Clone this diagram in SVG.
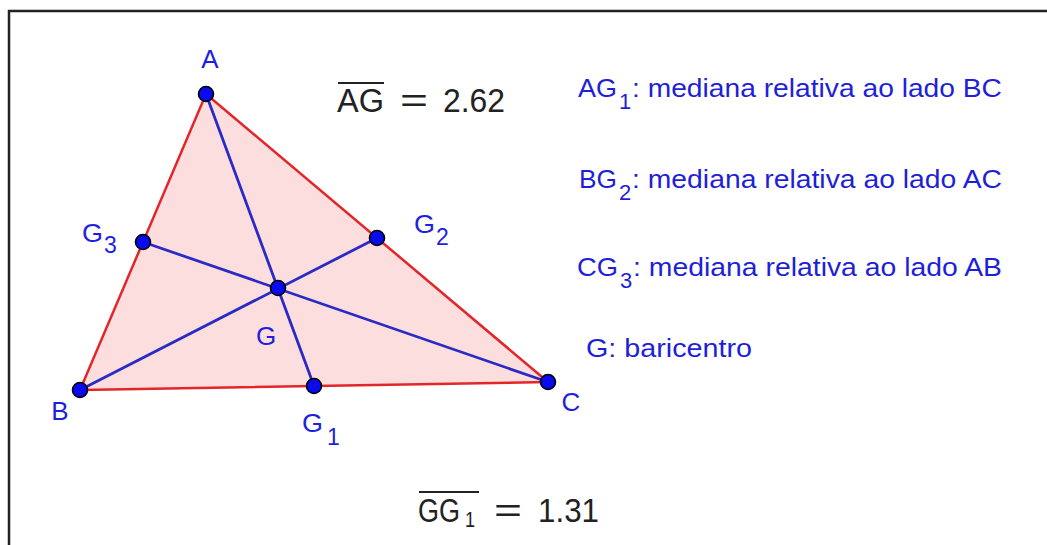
<svg xmlns="http://www.w3.org/2000/svg" width="1047" height="545" viewBox="0 0 1047 545">
<style>
.lbl{font-family:"Liberation Sans",Arial,sans-serif;font-size:26px;fill:#1f1fe0}
.txt{font-family:"Liberation Sans",Arial,sans-serif;font-size:26px;fill:#1f1fd8}
text.lbl.sub{font-size:23px}
text.txt.sub{font-size:22px}
.math{font-family:"Liberation Sans",Arial,sans-serif;font-size:33px;fill:#222}
.side{stroke:#e3262a;stroke-width:2.5;fill:none;stroke-linecap:round}
.med{stroke:#2a2ac4;stroke-width:2.8;fill:none;stroke-linecap:round}
.pt{fill:#0a0aee;stroke:#000;stroke-width:1.6}
.ovl{stroke:#222;stroke-width:2}
</style>
<rect width="1047" height="545" fill="#fff"/>
<path d="M9 545 V11 H1047" fill="none" stroke="#222" stroke-width="2.5"/>
<g id="triangle-fill">
<polygon points="206,94 80,390 548,382" fill="#fcdede"/>
</g>
<g id="connectors">
<line class="side" x1="206" y1="94" x2="80" y2="390"/>
<line class="side" x1="80" y1="390" x2="548" y2="382"/>
<line class="side" x1="548" y1="382" x2="206" y2="94"/>
<line class="med" x1="206" y1="94" x2="314" y2="386"/>
<line class="med" x1="80" y1="390" x2="377" y2="238"/>
<line class="med" x1="548" y1="382" x2="143" y2="242"/>
</g>
<g id="A"><circle class="pt" cx="206" cy="94" r="7.5"/><text class="lbl" x="210" y="68" text-anchor="middle">A</text></g>
<g id="B"><circle class="pt" cx="80" cy="390" r="7.5"/><text class="lbl" x="60" y="420" text-anchor="middle">B</text></g>
<g id="C"><circle class="pt" cx="548" cy="382" r="7.5"/><text class="lbl" x="571" y="411" text-anchor="middle">C</text></g>
<g id="G"><circle class="pt" cx="278" cy="288" r="7.5"/><text class="lbl" x="266" y="345" text-anchor="middle">G</text></g>
<g id="G1"><circle class="pt" cx="314" cy="386" r="7.5"/><text class="lbl" x="302" y="432" textLength="21" lengthAdjust="spacingAndGlyphs">G</text><text class="lbl sub" x="327" y="445">1</text></g>
<g id="G2"><circle class="pt" cx="377" cy="238" r="7.5"/><text class="lbl" x="414" y="233" textLength="21" lengthAdjust="spacingAndGlyphs">G</text><text class="lbl sub" x="436" y="245">2</text></g>
<g id="G3"><circle class="pt" cx="143" cy="242" r="7.5"/><text class="lbl" x="82" y="242" textLength="21" lengthAdjust="spacingAndGlyphs">G</text><text class="lbl sub" x="104" y="253">3</text></g>
<g id="AG-measure">
<line class="ovl" x1="338" y1="83" x2="384" y2="83"/>
<text class="math" x="337" y="112" textLength="47" lengthAdjust="spacingAndGlyphs">AG</text>
<text class="math" x="400" y="112" textLength="28" lengthAdjust="spacingAndGlyphs">=</text>
<text class="math" x="443" y="112" textLength="62" lengthAdjust="spacingAndGlyphs">2.62</text>
</g>
<g id="GG1-measure">
<line class="ovl" x1="419" y1="492" x2="479" y2="492"/>
<text class="math" transform="translate(418,522) scale(0.82,1)">GG<tspan dx="6" dy="5" style="font-size:22px">1</tspan></text>
<text class="math" x="494" y="522" textLength="28" lengthAdjust="spacingAndGlyphs">=</text>
<text class="math" x="538" y="522" textLength="61" lengthAdjust="spacingAndGlyphs">1.31</text>
</g>
<g id="legend">
<text class="txt" x="578" y="97" textLength="39" lengthAdjust="spacingAndGlyphs">AG</text><text class="txt sub" x="619" y="109">1</text><text class="txt" x="632" y="97" textLength="370" lengthAdjust="spacingAndGlyphs">: mediana relativa ao lado BC</text>
<text class="txt" x="579" y="188" textLength="38" lengthAdjust="spacingAndGlyphs">BG</text><text class="txt sub" x="619" y="200">2</text><text class="txt" x="632" y="188" textLength="370" lengthAdjust="spacingAndGlyphs">: mediana relativa ao lado AC</text>
<text class="txt" x="577" y="276" textLength="41" lengthAdjust="spacingAndGlyphs">CG</text><text class="txt sub" x="620" y="288">3</text><text class="txt" x="633" y="276" textLength="369" lengthAdjust="spacingAndGlyphs">: mediana relativa ao lado AB</text>
<text class="txt" x="586" y="357" textLength="166" lengthAdjust="spacingAndGlyphs">G: baricentro</text>
</g>
</svg>
